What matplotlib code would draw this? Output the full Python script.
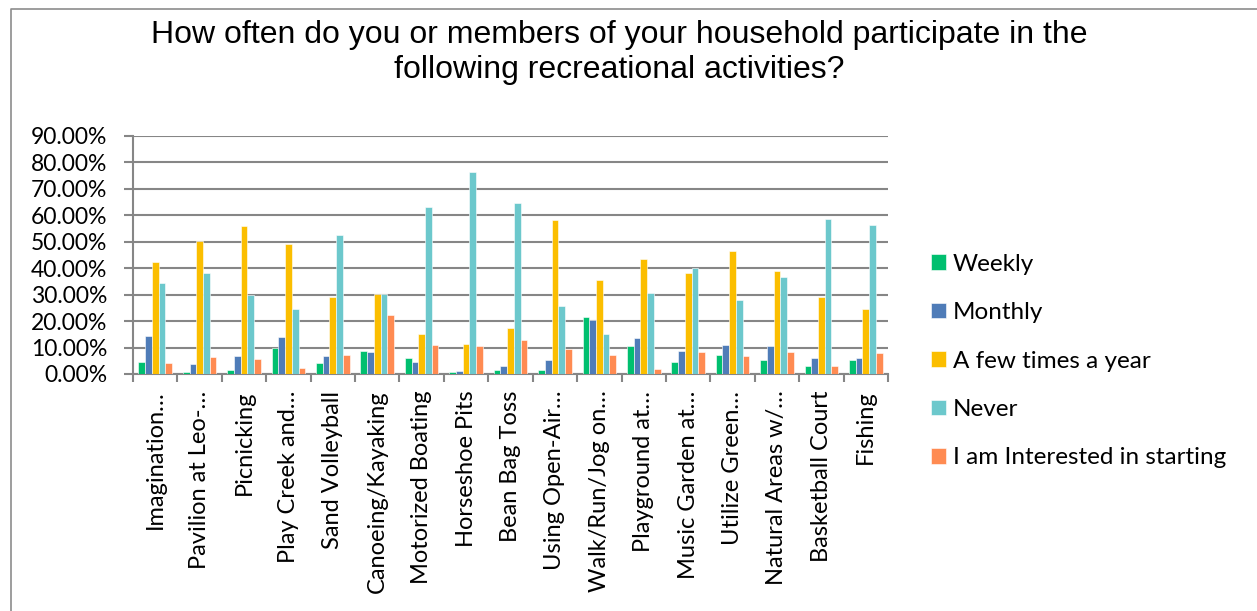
import numpy as np
import matplotlib
matplotlib.use("Agg")
import matplotlib.pyplot as plt
from matplotlib.lines import Line2D
from matplotlib.ticker import PercentFormatter, FixedLocator

activities = ["Imagination…", "Pavilion at Leo-…", "Picnicking", "Play Creek and…",
              "Sand Volleyball", "Canoeing/Kayaking", "Motorized Boating", "Horseshoe Pits",
              "Bean Bag Toss", "Using Open-Air…", "Walk/Run/Jog on…", "Playground at…",
              "Music Garden at…", "Utilize Green…", "Natural Areas w/…", "Basketball Court",
              "Fishing"]

weekly = [4.4, 0.8, 1.5, 9.9, 4.2, 8.7, 6.0, 0.8, 1.5, 1.5, 21.5, 10.4, 4.7, 7.3, 5.4, 3.1, 5.4]
monthly = [14.3, 3.9, 6.8, 14.0, 6.8, 8.3, 4.4, 1.1, 3.1, 5.3, 20.4, 13.6, 8.6, 11.1, 10.6, 6.0, 6.0]
few_times = [42.5, 50.2, 55.9, 49.1, 29.2, 30.3, 15.2, 11.3, 17.4, 58.3, 35.5, 43.6, 38.3, 46.6, 39.1, 29.1, 24.5]
never = [34.6, 38.1, 30.0, 24.7, 52.7, 30.3, 63.1, 76.2, 64.6, 25.7, 15.0, 30.6, 40.2, 28.1, 36.5, 58.7, 56.3]
interested = [4.2, 6.5, 5.7, 2.3, 7.0, 22.3, 10.8, 10.4, 12.8, 9.4, 7.3, 1.9, 8.3, 6.8, 8.3, 2.9, 7.8]

series = ["Weekly", "Monthly", "A few times a year", "Never", "I am Interested in starting"]
colors = ["#00BF6F", "#4F7CB8", "#FBBE00", "#6CC8CC", "#FF8B52"]
values = [weekly, monthly, few_times, never, interested]

body_font = ["Lato", "DejaVu Sans"]
grid_col = "#868686"

fig = plt.figure(figsize=(12.57, 6.11), dpi=100)
ax = fig.add_axes([133 / 1257, 1 - 374 / 611, (888 - 133) / 1257, (374 - 136) / 611])

x = np.arange(len(activities))
w = 0.151
for i, (name, vals, c) in enumerate(zip(series, values, colors)):
    ax.bar(x + (i - 2) * w, vals, width=w, color=c, edgecolor="white", linewidth=0.4,
           label=name, zorder=3)

ax.set_xlim(-0.5, len(activities) - 0.5)
ax.set_ylim(0, 90)
ax.set_yticks(np.arange(0, 91, 10))
ax.yaxis.set_major_formatter(PercentFormatter(decimals=2))
ax.grid(axis="y", color=grid_col, linewidth=1.5, zorder=0)
for s in ["top", "right"]:
    ax.spines[s].set_visible(False)
for s in ["left", "bottom"]:
    ax.spines[s].set_color(grid_col)
    ax.spines[s].set_linewidth(1.5)

ax.set_xticks(x)
ax.set_xticklabels(activities, rotation=90, fontsize=17, family=body_font)
ax.tick_params(axis="x", which="major", length=0, pad=12)
ax.xaxis.set_minor_locator(FixedLocator(np.arange(-0.5, len(activities), 1)))
ax.tick_params(axis="x", which="minor", length=6, width=1.5, color=grid_col, direction="out")
ax.tick_params(axis="y", length=6.5, width=1.5, color=grid_col, pad=12, labelsize=16.5)
for lab in ax.get_yticklabels():
    lab.set_family(body_font)

fig.text(619 / 1257, 1 - 35 / 611,
         "How often do you or members of your household participate in the",
         ha="center", va="center", fontsize=23, family="Liberation Sans")
fig.text(619 / 1257, 1 - 70 / 611, "following recreational activities?",
         ha="center", va="center", fontsize=23, family="Liberation Sans")

fig.legend(loc="center left", bbox_to_anchor=(931 / 1257, 1 - 361 / 611), frameon=False,
           prop={"family": body_font, "size": 17.5}, handlelength=0.62, handleheight=0.62,
           handletextpad=0.29, labelspacing=1.13, borderpad=0, borderaxespad=0)

# chart frame (only top/left edges fall inside the picture)
fig.add_artist(Line2D([11 / 1257, 11 / 1257, 1], [0, 1 - 9 / 611, 1 - 9 / 611],
                      transform=fig.transFigure, color="#8c8c8c", linewidth=1.2))

fig.savefig("out.png", dpi=100)
